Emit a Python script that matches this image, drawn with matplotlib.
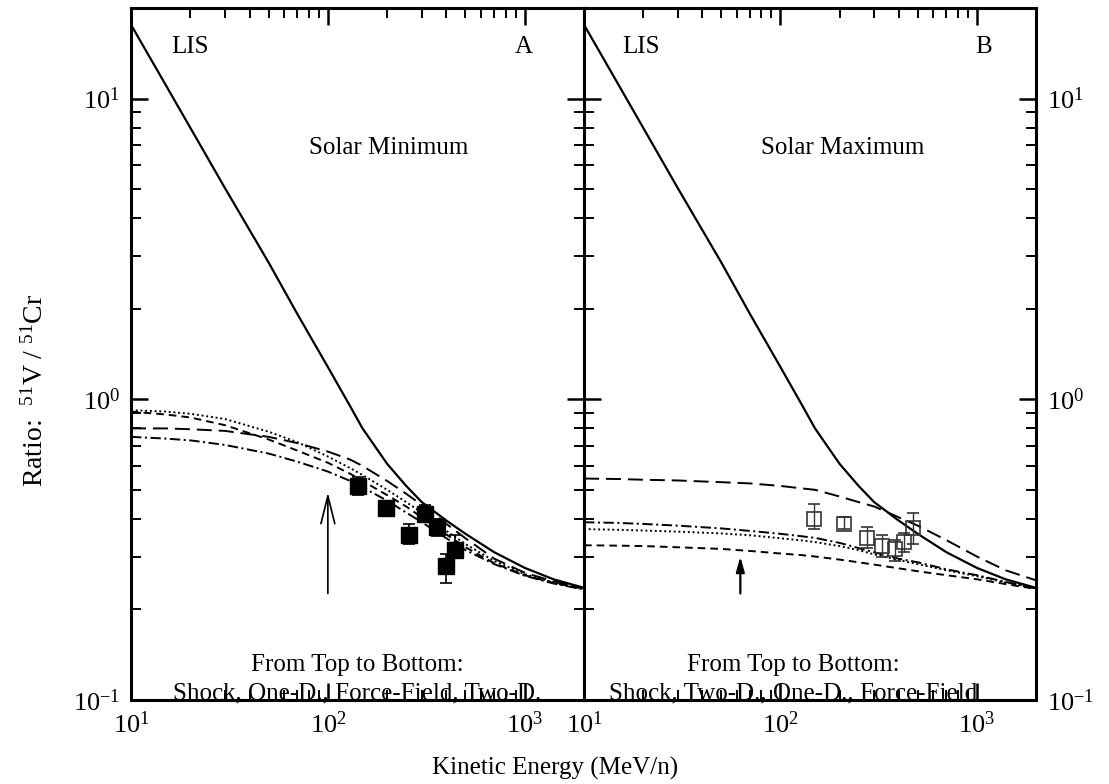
import matplotlib
matplotlib.use("Agg")
import matplotlib.pyplot as plt
from matplotlib.ticker import LogLocator, NullFormatter

plt.rcParams['font.family'] = ['Liberation Serif', 'DejaVu Serif']
plt.rcParams['mathtext.fontset'] = 'custom'
plt.rcParams['mathtext.rm'] = 'Liberation Serif'
plt.rcParams['mathtext.it'] = 'Liberation Serif:italic'
plt.rcParams['axes.unicode_minus'] = False
plt.rcParams['lines.scale_dashes'] = False

# -------------------------------
# DATA
# -------------------------------
energy = [10, 15, 20, 30, 50, 70, 100, 130, 150, 200, 250, 300, 400, 500, 700, 1000, 1400, 2000]

lis = [17.6, 11.1, 8.0, 5.04, 2.85, 1.92, 1.28, 0.946, 0.80, 0.61, 0.515, 0.455, 0.395, 0.357, 0.31, 0.275, 0.252, 0.236]

# panel A, solar minimum
min_shock = [0.80, 0.80, 0.795, 0.785, 0.75, 0.715, 0.67, 0.63, 0.60, 0.535, 0.485, 0.445, 0.385, 0.345, 0.295, 0.265, 0.248, 0.235]
min_oned = [0.92, 0.91, 0.895, 0.86, 0.78, 0.72, 0.645, 0.59, 0.56, 0.50, 0.455, 0.42, 0.365, 0.33, 0.29, 0.262, 0.246, 0.234]
min_ff = [0.91, 0.89, 0.87, 0.82, 0.735, 0.675, 0.615, 0.565, 0.535, 0.48, 0.44, 0.405, 0.355, 0.322, 0.285, 0.26, 0.245, 0.234]
min_twod = [0.75, 0.74, 0.73, 0.705, 0.66, 0.62, 0.575, 0.535, 0.51, 0.46, 0.42, 0.39, 0.345, 0.315, 0.283, 0.259, 0.244, 0.233]

# panel B, solar maximum
max_shock = [0.545, 0.543, 0.54, 0.537, 0.53, 0.525, 0.515, 0.505, 0.50, 0.475, 0.455, 0.44, 0.405, 0.38, 0.34, 0.30, 0.27, 0.25]
max_twod = [0.39, 0.388, 0.385, 0.38, 0.372, 0.365, 0.357, 0.35, 0.346, 0.333, 0.32, 0.31, 0.295, 0.287, 0.272, 0.26, 0.247, 0.235]
max_oned = [0.37, 0.368, 0.366, 0.363, 0.358, 0.353, 0.345, 0.339, 0.335, 0.325, 0.315, 0.305, 0.292, 0.283, 0.27, 0.258, 0.246, 0.235]
max_ff = [0.327, 0.326, 0.325, 0.322, 0.318, 0.313, 0.307, 0.303, 0.30, 0.293, 0.287, 0.282, 0.274, 0.268, 0.26, 0.252, 0.243, 0.234]

# measurements
min_e = [142, 198, 259, 312, 360, 440, 400]
min_r = [0.513, 0.436, 0.355, 0.417, 0.375, 0.316, 0.278]
min_hi = [0.55, 0.455, 0.385, 0.445, 0.40, 0.355, 0.306]
min_lo = [0.48, 0.42, 0.33, 0.39, 0.35, 0.30, 0.245]

max_e = [149, 210, 275, 327, 382, 425, 471]
max_r = [0.40, 0.385, 0.347, 0.324, 0.318, 0.336, 0.374]
max_hi = [0.45, 0.405, 0.375, 0.355, 0.34, 0.36, 0.42]
max_lo = [0.37, 0.37, 0.32, 0.30, 0.29, 0.31, 0.33]

# -------------------------------
# FIGURE
# -------------------------------
fig = plt.figure(figsize=(11.09, 7.84), dpi=100)
axA = fig.add_axes([131/1109, 1-700/784, 453/1109, 692/784])
axB = fig.add_axes([584/1109, 1-700/784, 452/1109, 692/784])

ls_shock = (0, (10.8, 5))
ls_ff = (0, (5.5, 3.6))
ls_dot = (0, (1.4, 2.0))
ls_dd = (0, (7.5, 2.5, 1.5, 2.5))


def style_axis(ax):
    ax.set_xscale('log')
    ax.set_yscale('log')
    ax.set_xlim(10, 2000)
    ax.set_ylim(0.1, 20)
    for s in ax.spines.values():
        s.set_linewidth(2.2)
    ax.xaxis.set_major_locator(LogLocator(base=10))
    ax.xaxis.set_minor_locator(LogLocator(base=10, subs=range(2, 10)))
    ax.yaxis.set_minor_locator(LogLocator(base=10, subs=range(2, 10)))
    ax.xaxis.set_minor_formatter(NullFormatter())
    ax.yaxis.set_minor_formatter(NullFormatter())
    ax.tick_params(which='both', direction='in', top=True, right=True,
                   left=True, bottom=True, labelsize=19, pad=8)
    ax.tick_params(which='major', length=12, width=1.8)
    ax.tick_params(which='minor', length=7, width=1.4)


for ax in (axA, axB):
    style_axis(ax)
    ax.plot(energy, lis, color='black', lw=1.6)

axA.plot(energy, min_shock, color='black', lw=1.4, linestyle=ls_shock)
axA.plot(energy, min_oned, color='black', lw=1.4, linestyle=ls_dot)
axA.plot(energy, min_ff, color='black', lw=1.4, linestyle=ls_ff)
axA.plot(energy, min_twod, color='black', lw=1.4, linestyle=ls_dd)

axB.plot(energy, max_shock, color='black', lw=1.4, linestyle=ls_shock)
axB.plot(energy, max_twod, color='black', lw=1.4, linestyle=ls_dd)
axB.plot(energy, max_oned, color='black', lw=1.4, linestyle=ls_dot)
axB.plot(energy, max_ff, color='black', lw=1.4, linestyle=ls_ff)

errA = [[r - l for r, l in zip(min_r, min_lo)], [h - r for r, h in zip(min_r, min_hi)]]
axA.errorbar(min_e, min_r, yerr=errA, fmt='s', color='black', ms=11,
             capsize=4, elinewidth=1.2, capthick=1.2)
errB = [[r - l for r, l in zip(max_r, max_lo)], [h - r for r, h in zip(max_r, max_hi)]]
axB.errorbar(max_e, max_r, yerr=errB, fmt='s', color='#333333', mfc='none', ms=10,
             mew=1.2, capsize=4, elinewidth=1.0, capthick=1.0)

# tick labels: left on A, right on B
axA.tick_params(labelleft=True, labelright=False)
axB.tick_params(labelleft=False, labelright=True)

# arrows
axA.annotate('', xy=(100, 0.49), xytext=(100, 0.226),
             arrowprops=dict(arrowstyle='->,head_length=1.0,head_width=0.25',
                             color='black', lw=1.2, mutation_scale=20,
                             shrinkA=0, shrinkB=0))
axB.annotate('', xy=(62.5, 0.30), xytext=(62.5, 0.226),
             arrowprops=dict(arrowstyle='-|>,head_length=0.9,head_width=0.25',
                             color='black', lw=1.6, mutation_scale=10,
                             shrinkA=0, shrinkB=0))

# texts
fs = 18
kw = dict(fontsize=fs, ha='center', va='center')
axA.text(0.13, 0.943, 'LIS', transform=axA.transAxes, **kw)
axA.text(0.867, 0.943, 'A', transform=axA.transAxes, **kw)
axB.text(0.125, 0.943, 'LIS', transform=axB.transAxes, **kw)
axB.text(0.885, 0.943, 'B', transform=axB.transAxes, **kw)
axA.text(0.568, 0.797, 'Solar Minimum', transform=axA.transAxes, **kw)
axB.text(0.573, 0.797, 'Solar Maximum', transform=axB.transAxes, **kw)
axA.text(0.5, 0.05, 'From Top to Bottom:', transform=axA.transAxes, **kw)
axA.text(0.5, 0.01, 'Shock, One-D., Force-Field, Two-D.', transform=axA.transAxes, **kw)
axB.text(0.462, 0.05, 'From Top to Bottom:', transform=axB.transAxes, **kw)
axB.text(0.462, 0.01, 'Shock, Two-D., One-D., Force-Field', transform=axB.transAxes, **kw)

fig.text(35/1109, 1-390/784, r'Ratio:  $^{51}$V / $^{51}$Cr', rotation=90,
         fontsize=20, ha='center', va='center')
fig.text(555/1109, 1-768/784, 'Kinetic Energy (MeV/n)', fontsize=fs,
         ha='center', va='center')

fig.savefig('out.png', dpi=100)
